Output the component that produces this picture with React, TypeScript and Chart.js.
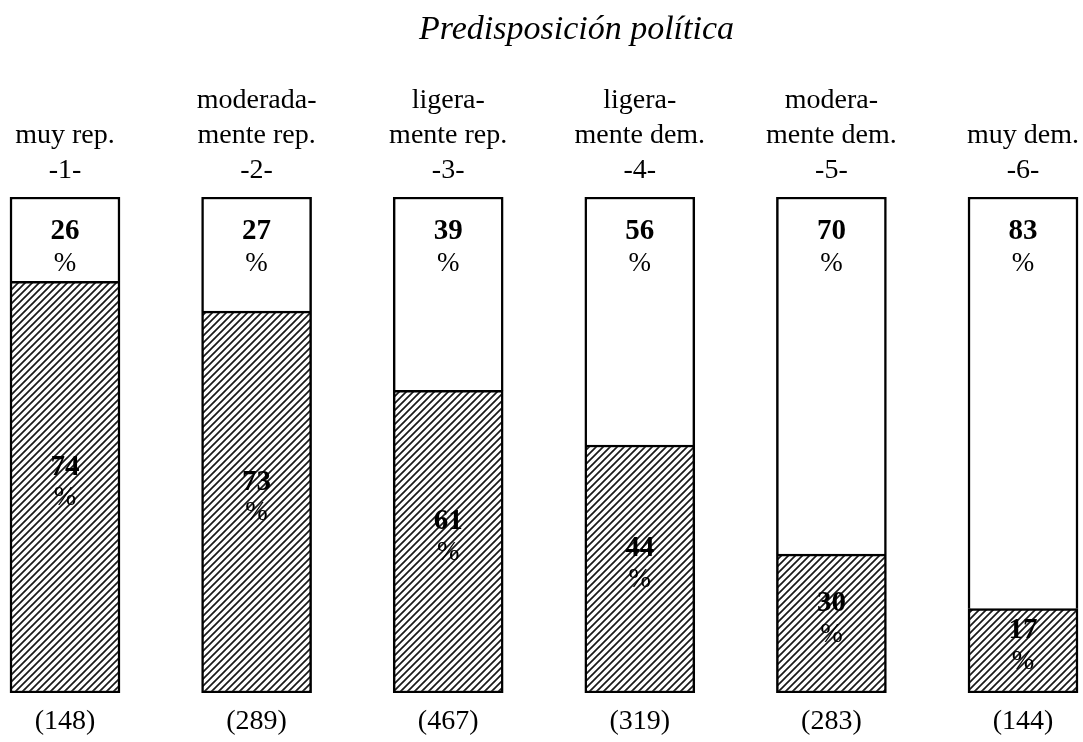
import React, { useEffect, useRef } from "react";
import { Chart, registerables } from "chart.js";

Chart.register(...registerables);

const titleText = "Predisposición política";
const categoryPositions = [1, 2, 3, 4, 5, 6];
const groupLabels = [
  ["muy rep.", "-1-"],
  ["moderada-", "mente rep.", "-2-"],
  ["ligera-", "mente rep.", "-3-"],
  ["ligera-", "mente dem.", "-4-"],
  ["modera-", "mente dem.", "-5-"],
  ["muy dem.", "-6-"],
];
// visible split of each bar (share of height)
const hatchedShare = [83, 77, 61, 50, 28, 17];
const openShare = [17, 23, 39, 50, 72, 83];
// printed percentages
const openLabels = ["26", "27", "39", "56", "70", "83"];
const hatchedLabels = ["74", "73", "61", "44", "30", "17"];
const sampleSizes = ["(148)", "(289)", "(467)", "(319)", "(283)", "(144)"];

const SERIF = "'Liberation Serif', 'Times New Roman', serif";

function makeHatch(): CanvasPattern | string {
  const s = 7;
  const c = document.createElement("canvas");
  c.width = s;
  c.height = s;
  const g = c.getContext("2d");
  if (!g) return "#888";
  g.fillStyle = "#ffffff";
  g.fillRect(0, 0, s, s);
  g.strokeStyle = "#1a1a1a";
  g.lineWidth = 1.7;
  g.beginPath();
  g.moveTo(-1, s + 1);
  g.lineTo(s + 1, -1);
  g.moveTo(-2, 2);
  g.lineTo(2, -2);
  g.moveTo(s - 2, s + 2);
  g.lineTo(s + 2, s - 2);
  g.stroke();
  const p = g.createPattern(c, "repeat");
  return p || "#888";
}

const textPlugin = {
  id: "textLabels",
  afterDatasetsDraw(chart: any) {
    const ctx = chart.ctx;
    const hatchMeta = chart.getDatasetMeta(0);
    const openMeta = chart.getDatasetMeta(1);
    ctx.save();
    ctx.fillStyle = "#000";
    ctx.textAlign = "center";
    ctx.textBaseline = "middle";
    // title
    ctx.font = `italic 34px ${SERIF}`;
    ctx.fillText(titleText, chart.width / 2 + 35, 30);
    categoryPositions.forEach((_, i) => {
      const hb = hatchMeta.data[i];
      const ob = openMeta.data[i];
      if (!hb || !ob) return;
      const x = hb.x;
      const top = ob.y;
      // group labels above the bar
      ctx.font = `28px ${SERIF}`;
      const lines = groupLabels[i];
      const lh = 35;
      lines.forEach((ln, k) => {
        const y = top - 26 - (lines.length - 1 - k) * lh;
        ctx.fillText(ln, x, y);
      });
      // open segment labels
      ctx.font = `bold 29px ${SERIF}`;
      ctx.fillText(openLabels[i], x, top + 35);
      ctx.font = `27px ${SERIF}`;
      ctx.fillText("%", x, top + 67);
      // hatched segment labels
      const hc = (hb.y + hb.base) / 2;
      ctx.font = `bold 29px ${SERIF}`;
      ctx.fillText(hatchedLabels[i], x, hc - 20);
      ctx.font = `27px ${SERIF}`;
      ctx.fillText("%", x, hc + 11);
      // sample size
      ctx.font = `28px ${SERIF}`;
      ctx.fillText(sampleSizes[i], x, hb.base + 29);
    });
    ctx.restore();
  },
};

export default function App() {
  const ref = useRef<HTMLCanvasElement | null>(null);
  useEffect(() => {
    if (!ref.current) return;
    const hatch = makeHatch();
    const chart = new Chart(ref.current, {
      type: "bar",
      data: {
        datasets: [
          {
            label: "hatched",
            data: categoryPositions.map((p, i) => ({ x: p, y: hatchedShare[i] })),
            backgroundColor: hatch as any,
            borderColor: "#000",
            borderWidth: { top: 2.5, left: 2.5, right: 2.5, bottom: 2.5 } as any,
            borderSkipped: false,
            barThickness: 110,
          },
          {
            label: "open",
            data: categoryPositions.map((p, i) => ({ x: p, y: openShare[i] })),
            backgroundColor: "#ffffff",
            borderColor: "#000",
            borderWidth: { top: 2.5, left: 2.5, right: 2.5, bottom: 0 } as any,
            borderSkipped: false,
            barThickness: 110,
          },
        ],
      },
      options: {
        animation: false,
        responsive: true,
        maintainAspectRatio: false,
        layout: { padding: { top: 197, bottom: 49, left: 0, right: 0 } },
        plugins: {
          legend: { display: false },
          title: { display: false },
          tooltip: { enabled: false },
        },
        scales: {
          x: {
            type: "linear",
            min: 0.6608,
            max: 6.3131,
            offset: false,
            stacked: true,
            display: false,
          },
          y: {
            min: 0,
            max: 100,
            stacked: true,
            display: false,
          },
        },
      },
      plugins: [textPlugin],
    });
    return () => chart.destroy();
  }, []);
  return (
    <div
      style={{
        position: "fixed",
        left: 0,
        top: 0,
        width: 1083,
        height: 742,
        background: "#fff",
      }}
    >
      <canvas ref={ref} />
    </div>
  );
}
